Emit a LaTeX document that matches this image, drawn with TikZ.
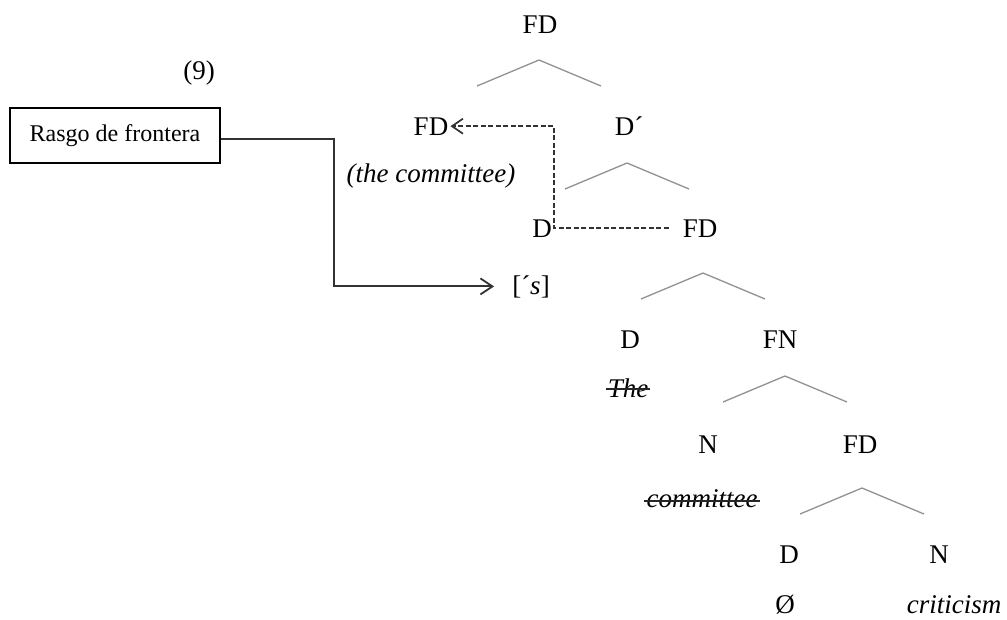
\documentclass[tikz,border=0pt]{standalone}
\usepackage{fontspec}
\setmainfont{Liberation Serif}
\usetikzlibrary{arrows.meta, positioning, calc}
\definecolor{branchgray}{RGB}{145, 145, 145}
\definecolor{linkgray}{RGB}{50, 50, 50}

\begin{document}
\begin{tikzpicture}[x=1pt, y=-1pt,
    cat/.style={anchor=base, inner sep=2pt, font=\fontsize{27}{30}\selectfont},
    branch/.style={draw=branchgray, line width=1.3pt},
    strike/.style={draw=black!85, line width=1.4pt},
    link/.style={draw=linkgray, line width=2pt, -{Straight Barb[length=12pt, width=16pt, line width=1.8pt]}},
    trace/.style={draw=linkgray, line width=1.8pt, dash pattern=on 5pt off 2.5pt, -{Straight Barb[length=11pt, width=15pt, line width=1.7pt, sep=0pt]}},
    labelbox/.style={draw, line width=1.3pt, minimum width=210pt, minimum height=55pt, inner sep=0pt, font=\fontsize{24}{26}\selectfont}]
    \useasboundingbox (0,0) rectangle (1007,619);

    % Example number and box
    \node[cat] (num) at (199,79) {(9)};
    \node[labelbox] (rasgo) at (115,135.5) {Rasgo de frontera};

    % Tree labels
    \node[cat] (fdtop) at (540,33) {FD};
    \node[cat] (fdspec) at (431,135) {FD};
    \node[cat] (dbar) at (629,135) {D´};
    \node[cat] (spec) at (431,182) {\itshape (the committee)};
    \node[cat] (dhead) at (542,237) {D};
    \node[cat] (fdcomp) at (700,237) {FD};
    \node[cat] (poss) at (531,294) {[´\textit{s}]};
    \node[cat] (dlow) at (630,348) {D};
    \node[cat] (fn) at (780,348) {FN};
    \node[cat] (the) at (628,397) {\textit{The}};
    \node[cat] (nlow) at (708,453) {N};
    \node[cat] (fdlow) at (860,453) {FD};
    \node[cat] (comm) at (702,507) {\textit{committee}};
    \node[cat] (dnull) at (789,563) {D};
    \node[cat] (nlast) at (939,563) {N};
    \node[cat] (null) at (785,613) {Ø};
    \node[cat] (crit) at (954,613) {\textit{criticism}};

    % Strike-through of deleted copies
    \draw[strike] ([yshift=8pt]the.base west) -- ([yshift=8pt]the.base east);
    \draw[strike] ([yshift=6pt]comm.base west) -- ([yshift=6pt]comm.base east);

    % Branches
    \foreach \x/\y in {539/60, 627/163, 703/273, 785/376, 862/488}
        \draw[branch] (\x-62,\y+26) -- (\x,\y) -- (\x+62,\y+26);

    % Connectors
    \draw[link, shorten >=16pt] ([yshift=-3.5pt]rasgo.east) -- ++(113,0) |- (poss.west);
    \draw[trace, shorten <=12pt] (fdcomp.west) -- (dhead.east) |- (fdspec.east);
\end{tikzpicture}
\end{document}
